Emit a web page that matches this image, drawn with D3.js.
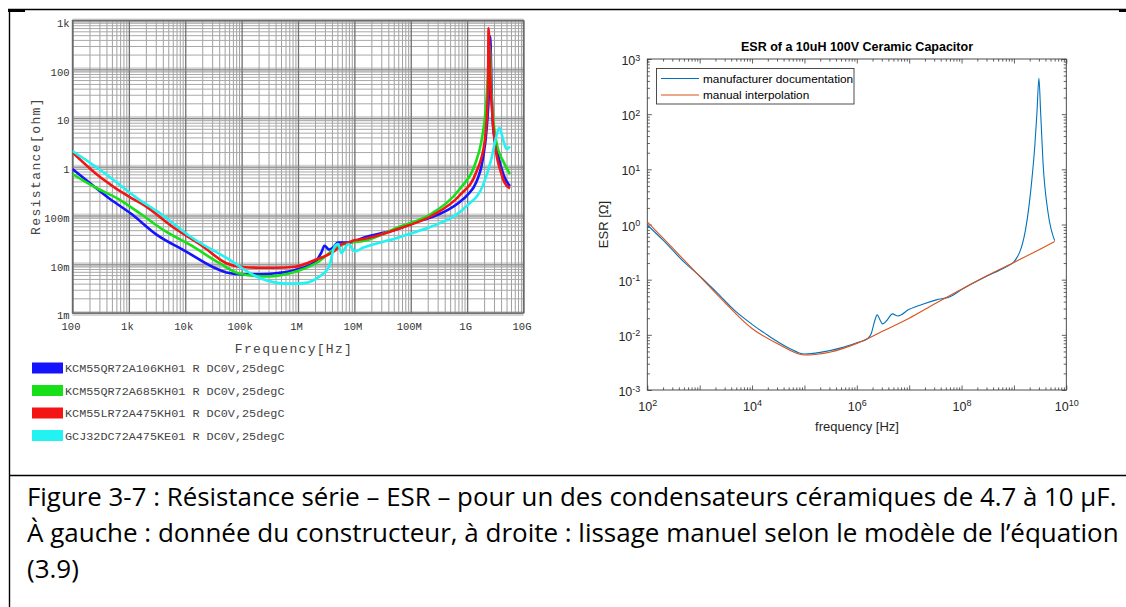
<!DOCTYPE html>
<html>
<head>
<meta charset="utf-8">
<script src="https://cdn.jsdelivr.net/npm/d3@7"></script>
<style>
  html, body { margin: 0; padding: 0; background: #fff; }
  svg { display: block; }
</style>
</head>
<body>
<svg id="fig" width="1126" height="607"></svg>
<script>
// ---------- Left panel: manufacturer resistance curves ----------
const leftXTicks = [1e2, 1e3, 1e4, 1e5, 1e6, 1e7, 1e8, 1e9, 1e10];
const leftXLabels = ["100", "1k", "10k", "100k", "1M", "10M", "100M", "1G", "10G"];
const leftYTicks = [1e3, 1e2, 1e1, 1, 1e-1, 1e-2, 1e-3];
const leftYLabels = ["1k", "100", "10", "1", "100m", "10m", "1m"];
const legendNames = [
  "KCM55QR72A106KH01 R DC0V,25degC",
  "KCM55QR72A685KH01 R DC0V,25degC",
  "KCM55LR72A475KH01 R DC0V,25degC",
  "GCJ32DC72A475KE01 R DC0V,25degC"
];
const seriesColors = ["#1414ff", "#18e018", "#f41414", "#22f2f2"];

// KCM55QR72A106KH01
const kcm106Freq = [1e2, 2e2, 4.57e2, 1.07e3, 3.24e3, 1e4, 3.02e4, 5.37e4, 1.07e5, 2.14e5, 4.47e5, 8.91e5,
  2.04e6, 2.63e6, 2.95e6, 3.55e6, 4.17e6, 5.13e6, 8.3e6, 1.45e7, 5.9e7, 1.29e8, 2.4e8, 7.4e8, 1e9,
  1.45e9, 1.9e9, 2.24e9, 2.45e9, 2.57e9, 2.69e9, 2.88e9, 3.55e9, 4.47e9, 5.75e9];
const kcm106Res = [0.9, 0.47, 0.22, 0.111, 0.039, 0.0186, 0.0089, 0.0068, 0.0062, 0.0062, 0.0066, 0.0076,
  0.0114, 0.018, 0.024, 0.02, 0.022, 0.028, 0.028, 0.035, 0.053, 0.075, 0.093, 0.19, 0.26,
  0.48, 1.44, 6.9, 44, 470, 60, 6.9, 1.7, 0.66, 0.40];

// KCM55QR72A685KH01
const kcm685Freq = [1e2, 2.51e2, 6.46e2, 1.58e3, 4.27e3, 1.32e4, 4.07e4, 9.33e4, 2.88e5, 8.91e5,
  2.34e6, 4.79e6, 8.3e6, 1.45e7, 5.9e7, 2.4e8, 7.4e8, 1.35e9, 1.78e9, 2.14e9,
  2.34e9, 2.51e9, 2.69e9, 3.31e9, 4.47e9, 5.75e9];
const kcm685Res = [0.71, 0.38, 0.22, 0.11, 0.049, 0.0237, 0.0105, 0.0064, 0.0056, 0.007,
  0.0114, 0.022, 0.028, 0.030, 0.057, 0.111, 0.35, 1.05, 3.2, 15,
  70, 300, 33, 3.2, 1.23, 0.71];

// KCM55LR72A475KH01
const kcm475Freq = [1e2, 3.16e2, 1.17e3, 1.62e3, 6.61e3, 2e4, 5.37e4, 1e5, 2e5, 3.98e5,
  8.91e5, 2.04e6, 4.79e6, 6.03e6, 7.24e6, 1e7, 1.45e7, 5.9e7, 2.4e8, 7.4e8,
  1.45e9, 2.04e9, 2.34e9, 2.4e9, 2.57e9, 3.09e9, 3.98e9, 4.57e9, 5.75e9];
const kcm475Res = [1.97, 0.6, 0.22, 0.18, 0.054, 0.0237, 0.0105, 0.0088, 0.0085, 0.0085,
  0.0089, 0.0124, 0.02, 0.026, 0.027, 0.031, 0.033, 0.053, 0.10, 0.26,
  0.77, 3.2, 33, 690, 70, 3.2, 0.77, 0.48, 0.36];

// GCJ32DC72A475KE01
const gcj475Freq = [1e2, 3.16e2, 1.45e3, 3.24e3, 1.32e4, 5.37e4, 2.19e5, 6.61e5, 1.26e6, 2.34e6,
  3.55e6, 4.37e6, 5.13e6, 5.89e6, 7.76e6, 1.02e7, 1.45e7, 5.9e7, 1.29e8, 2.4e8,
  9.77e8, 1.9e9, 2.69e9, 3.31e9, 3.72e9, 4.47e9, 5.01e9, 5.75e9];
const gcj475Res = [2.1, 0.85, 0.22, 0.12, 0.035, 0.0135, 0.0051, 0.0040, 0.0041, 0.0055,
  0.0089, 0.022, 0.026, 0.017, 0.026, 0.0186, 0.022, 0.035, 0.047, 0.06,
  0.155, 0.41, 1.44, 4.3, 6.3, 3.2, 2.3, 2.6];

// ---------- Right panel: ESR fit ----------
const rightXTicks = [1e2, 1e3, 1e4, 1e5, 1e6, 1e7, 1e8, 1e9, 1e10];
const rightYTicks = [1e-3, 1e-2, 1e-1, 1, 1e1, 1e2, 1e3];
const rightLegend = ["manufacturer documentation", "manual interpolation"];
const rightColors = ["#0072BD", "#D95319"];

const docFreq = [1e2, 2e2, 5e2, 1e3, 2e3, 5e3, 1e4, 2e4, 5e4, 1e5,
  2e5, 5e5, 1e6, 1.6e6, 1.9e6, 2.2e6, 2.45e6, 2.75e6, 3.1e6, 3.7e6,
  4.8e6, 6.1e6, 1e7, 2e7, 3.3e7, 6e7, 1e8, 3e8, 7e8, 1e9,
  1.66e9, 2.2e9, 2.5e9, 2.75e9, 3.0e9, 3.24e9, 3.6e9, 4.5e9, 6.0e9];
const docEsr = [0.98, 0.52, 0.21, 0.117, 0.062, 0.026, 0.0155, 0.0098, 0.0058, 0.0045,
  0.0048, 0.0058, 0.0072, 0.0085, 0.0107, 0.018, 0.023, 0.019, 0.0158, 0.018,
  0.024, 0.022, 0.029, 0.037, 0.043, 0.049, 0.066, 0.115, 0.17, 0.21,
  0.79, 6.5, 26, 105, 446, 105, 13, 1.6, 0.51];

const fitFreq = [1e2, 3.16e2, 1e3, 3.16e3, 1e4, 3.16e4, 1e5, 3.16e5, 1e6, 3.16e6,
  1e7, 3.16e7, 1e8, 3.16e8, 1e9, 3.16e9, 6e9];
const fitEsr = [1.12, 0.36, 0.115, 0.037, 0.013, 0.0068, 0.0043, 0.0049, 0.0070, 0.0117,
  0.020, 0.037, 0.067, 0.12, 0.205, 0.357, 0.49];

// ---------- Caption ----------
const captionLines = [
  "Figure 3-7 : Résistance série – ESR – pour un des condensateurs céramiques de 4.7 à 10 µF.",
  "À gauche : donnée du constructeur, à droite : lissage manuel selon le modèle de l’équation",
  "(3.9)"
];
const captionWidths = [1090, 1092, 53];

const svg = d3.select("#fig");
const zip = (a, b) => a.map((v, i) => [v, b[i]]);
const minorValues = (e0, e1) => {
  const out = [];
  for (let e = e0; e < e1; e++) for (let m = 2; m < 10; m++) out.push(m * Math.pow(10, e));
  return out;
};

// ---------- table frame ----------
const frame = svg.append("g").attr("stroke", "#000").attr("stroke-width", 1.4);
frame.append("line").attr("x1", 8).attr("x2", 1126).attr("y1", 9.5).attr("y2", 9.5);
frame.append("line").attr("x1", 9.5).attr("x2", 9.5).attr("y1", 9).attr("y2", 607);
frame.append("line").attr("x1", 9).attr("x2", 1126).attr("y1", 475.5).attr("y2", 475.5);
svg.append("rect").attr("x", 8).attr("y", 9).attr("width", 17).attr("height", 3).attr("fill", "#000");
svg.append("rect").attr("x", 1119).attr("y", 9).attr("width", 7).attr("height", 3).attr("fill", "#000");

// ---------- left chart ----------
const L = { x0: 72.5, x1: 523.5, y0: 20.5, y1: 313 };
const lx = d3.scaleLog().domain([1e2, 1e10]).range([L.x0, L.x1]);
const ly = d3.scaleLog().domain([1e-3, 1e3]).range([L.y1, L.y0]);
const monoFont = "'Liberation Mono', 'DejaVu Sans Mono', monospace";
const gL = svg.append("g");

svg.append("defs").append("clipPath").attr("id", "clipL")
  .append("rect").attr("x", L.x0).attr("y", L.y0).attr("width", L.x1 - L.x0).attr("height", L.y1 - L.y0);

// horizontal decade bands
gL.append("g").attr("transform", `translate(${L.x0},0)`)
  .call(d3.axisLeft(ly).tickValues(leftYTicks).tickSize(-(L.x1 - L.x0)).tickFormat(""))
  .call(g => g.select(".domain").remove())
  .selectAll("line").attr("stroke", "#d4d4d4").attr("stroke-width", 5);

// minor grid
gL.append("g").attr("transform", `translate(0,${L.y1})`)
  .call(d3.axisBottom(lx).tickValues(minorValues(2, 10)).tickSize(-(L.y1 - L.y0)).tickFormat(""))
  .call(g => g.select(".domain").remove())
  .selectAll("line").attr("stroke", "#a0a0a0").attr("stroke-width", 1);
gL.append("g").attr("transform", `translate(${L.x0},0)`)
  .call(d3.axisLeft(ly).tickValues(minorValues(-3, 3)).tickSize(-(L.x1 - L.x0)).tickFormat(""))
  .call(g => g.select(".domain").remove())
  .selectAll("line").attr("stroke", "#a8a8a8").attr("stroke-width", 1);

// decade grid
gL.append("g").attr("transform", `translate(0,${L.y1})`)
  .call(d3.axisBottom(lx).tickValues(leftXTicks).tickSize(-(L.y1 - L.y0)).tickFormat(""))
  .call(g => g.select(".domain").remove())
  .selectAll("line").attr("stroke", "#707070").attr("stroke-width", 1.3);
gL.append("g").attr("transform", `translate(${L.x0},0)`)
  .call(d3.axisLeft(ly).tickValues(leftYTicks).tickSize(-(L.x1 - L.x0)).tickFormat(""))
  .call(g => g.select(".domain").remove())
  .selectAll("line").attr("stroke", "#8a8a8a").attr("stroke-width", 1);

// plot border
gL.append("rect").attr("x", L.x0).attr("y", L.y0).attr("width", L.x1 - L.x0).attr("height", L.y1 - L.y0)
  .attr("fill", "none").attr("stroke", "#6a6a6a").attr("stroke-width", 1.4);

// tick labels
gL.append("g").attr("transform", `translate(-2,${L.y1})`)
  .call(d3.axisBottom(lx).tickValues(leftXTicks).tickSize(0).tickPadding(10)
    .tickFormat((d, i) => leftXLabels[i]))
  .call(g => g.select(".domain").remove())
  .selectAll("text").attr("font-family", monoFont).attr("font-size", 10.5).attr("fill", "#333");
gL.append("g").attr("transform", `translate(${L.x0 - 2},0)`)
  .call(d3.axisLeft(ly).tickValues(leftYTicks).tickSize(0).tickPadding(1)
    .tickFormat((d, i) => leftYLabels[i]))
  .call(g => g.select(".domain").remove())
  .selectAll("text").attr("font-family", monoFont).attr("font-size", 10.5).attr("fill", "#333")
  .attr("dy", "0.55em");

// axis titles
gL.append("text").attr("x", 294).attr("y", 353).attr("text-anchor", "middle")
  .attr("font-family", monoFont).attr("font-size", 13).attr("letter-spacing", 1.3).attr("fill", "#444")
  .text("Frequency[Hz]");
gL.append("text").attr("transform", "translate(40,166) rotate(-90)").attr("text-anchor", "middle")
  .attr("font-family", monoFont).attr("font-size", 13).attr("letter-spacing", 1.4).attr("fill", "#444")
  .text("Resistance[ohm]");

// curves
const leftSeries = [
  zip(kcm106Freq, kcm106Res),
  zip(kcm685Freq, kcm685Res),
  zip(kcm475Freq, kcm475Res),
  zip(gcj475Freq, gcj475Res)
];
const lineL = d3.line().x(d => lx(d[0])).y(d => ly(d[1])).curve(d3.curveMonotoneX);
gL.append("g").attr("clip-path", "url(#clipL)")
  .selectAll("path").data(leftSeries).join("path")
  .attr("d", lineL).attr("fill", "none")
  .attr("stroke", (d, i) => seriesColors[i]).attr("stroke-width", 2.6)
  .attr("stroke-linejoin", "round");

// legend
const legRows = [368, 390.5, 413, 435.5];
const leg = gL.append("g");
leg.selectAll("rect").data(legendNames).join("rect")
  .attr("x", 32).attr("y", (d, i) => legRows[i] - 5.5).attr("width", 31).attr("height", 11)
  .attr("fill", (d, i) => seriesColors[i]);
leg.selectAll("text").data(legendNames).join("text")
  .attr("x", 65).attr("y", (d, i) => legRows[i] + 4)
  .attr("font-family", monoFont).attr("font-size", 11.8).attr("fill", "#444")
  .attr("xml:space", "preserve").text(d => d);

// ---------- right chart ----------
const R = { x0: 647.3, x1: 1066.3, y0: 59, y1: 390 };
const rx = d3.scaleLog().domain([1e2, 1e10]).range([R.x0, R.x1]);
const ry = d3.scaleLog().domain([1e-3, 1e3]).range([R.y1, R.y0]);
const sansFont = "'Liberation Sans', Arial, Helvetica, sans-serif";
const gR = svg.append("g");
const axisColor = "#3a3a3a";

const supLabel = sel => sel.each(function (d) {
  const e = Math.round(Math.log10(d));
  const t = d3.select(this);
  t.text(null);
  t.append("tspan").text("10");
  t.append("tspan").attr("dy", "-0.5em").attr("font-size", "0.72em").text(String(e));
});

const styleAxis = g => {
  g.select(".domain").remove();
  g.selectAll("line").attr("stroke", axisColor).attr("stroke-width", 0.8);
};

// minor ticks on all four sides
const minorRX = minorValues(2, 10), minorRY = minorValues(-3, 3);
gR.append("g").attr("transform", `translate(0,${R.y1})`)
  .call(d3.axisBottom(rx).tickValues(minorRX).tickSize(-2.6).tickFormat("")).call(styleAxis);
gR.append("g").attr("transform", `translate(0,${R.y0})`)
  .call(d3.axisTop(rx).tickValues(minorRX).tickSize(-2.6).tickFormat("")).call(styleAxis);
gR.append("g").attr("transform", `translate(${R.x0},0)`)
  .call(d3.axisLeft(ry).tickValues(minorRY).tickSize(-2.6).tickFormat("")).call(styleAxis);
gR.append("g").attr("transform", `translate(${R.x1},0)`)
  .call(d3.axisRight(ry).tickValues(minorRY).tickSize(-2.6).tickFormat("")).call(styleAxis);

// major ticks
const bottomAx = gR.append("g").attr("transform", `translate(0,${R.y1})`)
  .call(d3.axisBottom(rx).tickValues(rightXTicks).tickSize(-4.5).tickPadding(12)).call(styleAxis);
bottomAx.selectAll("text").filter(d => Math.round(Math.log10(d)) % 2 === 1).remove();
bottomAx.selectAll("text").attr("font-family", sansFont).attr("font-size", 12.5).attr("fill", "#262626")
  .call(supLabel);
gR.append("g").attr("transform", `translate(0,${R.y0})`)
  .call(d3.axisTop(rx).tickValues(rightXTicks).tickSize(-4.5).tickFormat("")).call(styleAxis);
const leftAx = gR.append("g").attr("transform", `translate(${R.x0},0)`)
  .call(d3.axisLeft(ry).tickValues(rightYTicks).tickSize(-4.5).tickPadding(7)).call(styleAxis);
leftAx.selectAll("text").attr("font-family", sansFont).attr("font-size", 12.5).attr("fill", "#262626")
  .attr("dy", "0.45em").call(supLabel);
gR.append("g").attr("transform", `translate(${R.x1},0)`)
  .call(d3.axisRight(ry).tickValues(rightYTicks).tickSize(-4.5).tickFormat("")).call(styleAxis);

// box
gR.append("rect").attr("x", R.x0).attr("y", R.y0).attr("width", R.x1 - R.x0).attr("height", R.y1 - R.y0)
  .attr("fill", "none").attr("stroke", axisColor).attr("stroke-width", 0.9);

// curves
const lineR = d3.line().x(d => rx(d[0])).y(d => ry(d[1])).curve(d3.curveMonotoneX);
gR.append("path").datum(zip(docFreq, docEsr)).attr("d", lineR).attr("fill", "none")
  .attr("stroke", rightColors[0]).attr("stroke-width", 1.1);
gR.append("path").datum(zip(fitFreq, fitEsr)).attr("d", lineR).attr("fill", "none")
  .attr("stroke", rightColors[1]).attr("stroke-width", 1.1);

// title and labels
gR.append("text").attr("x", 857).attr("y", 51).attr("text-anchor", "middle")
  .attr("font-family", sansFont).attr("font-weight", "bold").attr("font-size", 12.5).attr("fill", "#000")
  .text("ESR of a 10uH 100V Ceramic Capacitor");
gR.append("text").attr("x", 857).attr("y", 431).attr("text-anchor", "middle")
  .attr("font-family", sansFont).attr("font-size", 13).attr("fill", "#262626")
  .text("frequency [Hz]");
gR.append("text").attr("transform", "translate(608,224.5) rotate(-90)").attr("text-anchor", "middle")
  .attr("font-family", sansFont).attr("font-size", 13).attr("fill", "#262626")
  .text("ESR [Ω]");

// legend box
const lg = gR.append("g");
lg.append("rect").attr("x", 656.5).attr("y", 68.5).attr("width", 197.5).attr("height", 35.5)
  .attr("fill", "#fff").attr("stroke", "#3a3a3a").attr("stroke-width", 0.9);
const lgRows = [78.5, 95];
lg.selectAll("line.k").data(rightLegend).join("line").attr("class", "k")
  .attr("x1", 661).attr("x2", 699).attr("y1", (d, i) => lgRows[i]).attr("y2", (d, i) => lgRows[i])
  .attr("stroke", (d, i) => rightColors[i]).attr("stroke-width", 1.1);
lg.selectAll("text").data(rightLegend).join("text")
  .attr("x", 703).attr("y", (d, i) => lgRows[i] + 4)
  .attr("font-family", sansFont).attr("font-size", 11.8).attr("fill", "#000").text(d => d);

// ---------- caption ----------
// Each line is set at a fixed size, then squeezed horizontally to its column width.
const capBase = [506, 542, 578];
svg.append("g").selectAll("text").data(captionLines).join("text")
  .attr("x", 0).attr("y", 0)
  .attr("font-family", "'Liberation Sans Narrow', 'Open Sans', sans-serif").attr("font-size", 26)
  .attr("fill", "#000")
  .text(d => d)
  .each(function (d, i) {
    const natural = this.getComputedTextLength();
    const k = Math.min(1, captionWidths[i] / natural);
    d3.select(this).attr("transform", `translate(27,${capBase[i]}) scale(${k},1)`);
  });
</script>
</body>
</html>
